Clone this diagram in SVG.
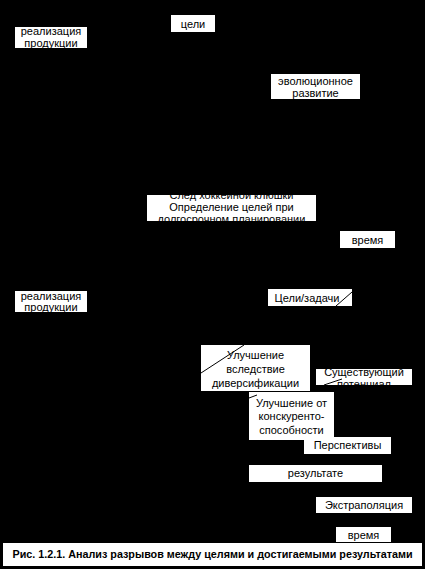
<svg xmlns="http://www.w3.org/2000/svg" width="425" height="569" viewBox="0 0 425 569">
<style>
.box{fill:#fff;stroke:none}
.t{font-family:"Liberation Sans",Arial,sans-serif;font-size:11px;fill:#000;text-anchor:middle}
.cap{font-family:"Liberation Sans",Arial,sans-serif;font-size:11px;font-weight:bold;fill:#000;text-anchor:middle}
.ln{stroke:#000;stroke-width:1;fill:none}
</style>
<rect x="0" y="0" width="425" height="569" fill="#000"/>
<g id="n-real1"><rect class="box" x="15" y="27" width="72" height="21"/><text class="t" x="51" y="35">реализация</text><text class="t" x="51" y="46.5">продукции</text></g>
<g id="n-celi"><rect class="box" x="171" y="15" width="44" height="17"/><text class="t" x="193" y="27.5">цели</text></g>
<g id="n-evol"><rect class="box" x="271" y="74" width="89" height="25"/><text class="t" x="315.5" y="84.5">эволюционное</text><text class="t" x="315.5" y="96.5">развитие</text></g>
<g id="n-hockey"><rect class="box" x="147" y="195" width="169" height="26"/><text class="t" x="231.5" y="198.5">След хоккейной клюшки</text><text class="t" x="231.5" y="211">Определение целей при</text><text class="t" x="231.5" y="223">долгосрочном планировании</text></g>
<g id="n-time1"><rect class="box" x="340" y="231" width="55" height="17"/><text class="t" x="367.5" y="243.5">время</text></g>
<g id="n-goals"><rect class="box" x="268" y="289" width="84" height="17"/><text class="t" x="307" y="302">Цели/задачи</text></g>
<g id="n-real2"><rect class="box" x="15" y="291" width="72" height="21"/><text class="t" x="51" y="300">реализация</text><text class="t" x="51" y="310.5">продукции</text></g>
<g id="n-divers"><rect class="box" x="201" y="345" width="109" height="46"/><text class="t" x="255.5" y="359">Улучшение</text><text class="t" x="255.5" y="373">вследствие</text><text class="t" x="255.5" y="386.5">диверсификации</text></g>
<g id="n-potential"><rect class="box" x="316" y="369" width="96" height="16"/><text class="t" x="364" y="376">Существующий</text><text class="t" x="364" y="388">потенциал</text></g>
<g id="n-compet"><rect class="box" x="249" y="392" width="85" height="48"/><text class="t" x="291.5" y="407">Улучшение от</text><text class="t" x="291.5" y="420">конскуренто-</text><text class="t" x="291.5" y="433.5">способности</text></g>
<g id="n-persp"><rect class="box" x="304" y="437" width="87" height="17"/><text class="t" x="347.5" y="449">Перспективы</text></g>
<g id="n-result"><rect class="box" x="249" y="465" width="133" height="17"/><text class="t" x="315.5" y="477">результате</text></g>
<g id="n-extra"><rect class="box" x="316" y="497" width="96" height="16"/><text class="t" x="364" y="509">Экстраполяция</text></g>
<g id="n-time2"><rect class="box" x="336" y="527" width="55" height="15"/><text class="t" x="363.5" y="538.5">время</text></g>
<g id="connectors">
<line class="ln" x1="336" y1="306" x2="352" y2="292"/>
<line class="ln" x1="201" y1="373" x2="244" y2="345"/>
<line class="ln" x1="324" y1="385" x2="342" y2="379"/>
<line class="ln" x1="249" y1="398" x2="257" y2="395"/>
</g>
<g id="caption"><rect class="box" x="3" y="543" width="419" height="23"/><text class="cap" x="212.5" y="558" textLength="400" lengthAdjust="spacingAndGlyphs">Рис. 1.2.1. Анализ разрывов между целями и достигаемыми результатами</text></g>
</svg>
